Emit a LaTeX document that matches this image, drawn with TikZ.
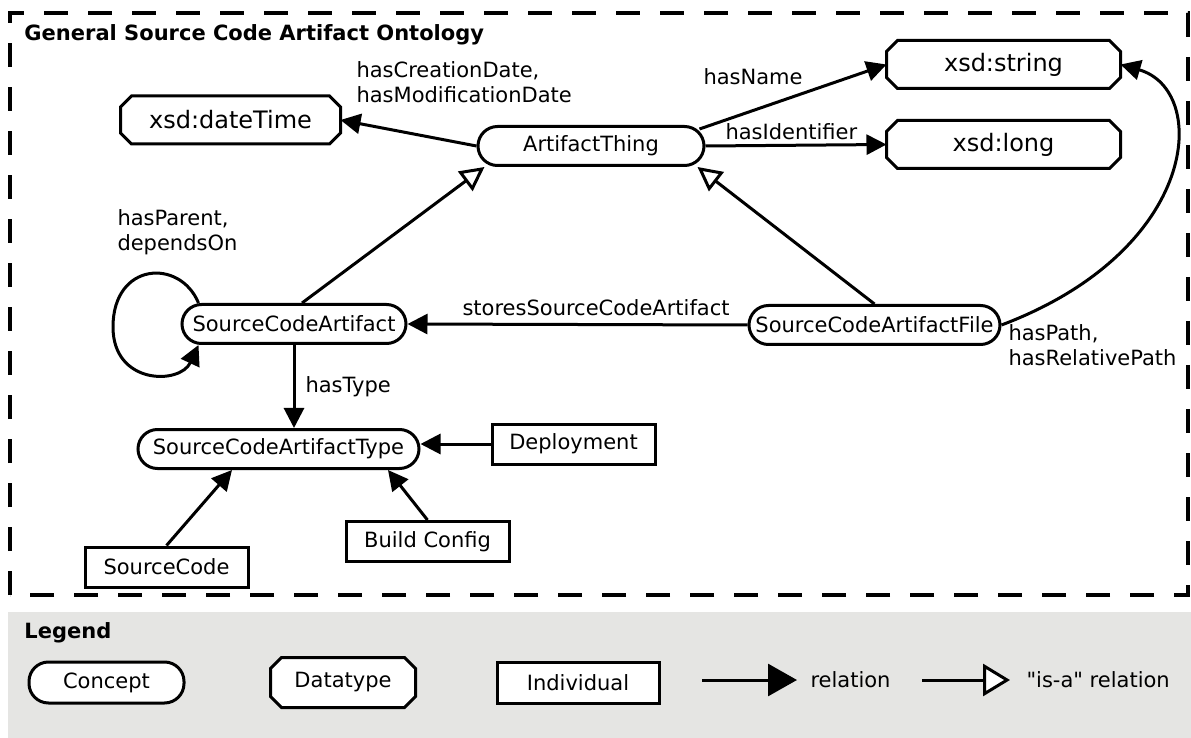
\documentclass[tikz,border=0pt]{standalone}
\usepackage{fontspec}
\setmainfont{DejaVu Sans}[Ligatures=TeXOff]
\usetikzlibrary{arrows.meta}
\definecolor{ink}{HTML}{000000}
\definecolor{legendbg}{HTML}{E5E5E3}
\pgfdeclarelayer{back}
\pgfsetlayers{back,main}

\begin{document}
\begin{tikzpicture}[x=0.5pt,y=-0.5pt,line width=1.5pt,
  every node/.style={font=\fontsize{10.5}{12.5}\selectfont,inner sep=0pt},
  concept/.style={draw=ink,fill=white,rounded corners=9.75pt,minimum height=19.5pt},
  datatype/.style={minimum height=22.5pt,font=\fontsize{12}{14}\selectfont},
  individual/.style={draw=ink,fill=white,minimum width=81.5pt,minimum height=20pt},
  rel/.style={draw=ink,-{Triangle[length=10pt,width=10pt]}},
  isa/.style={draw=ink,-{Triangle[open,length=12pt,width=12pt,fill=white]}},
  lbl/.style={anchor=west,align=left}]
  \useasboundingbox (0,0) rectangle (1191,738);
  \draw[draw=ink,line width=2pt,dash pattern=on 12pt off 10pt] (10,595) rectangle (1188,13);
  \node[anchor=west,font=\fontsize{10.5}{12.5}\selectfont\bfseries] (title) at (23,35) {General Source Code Artifact Ontology};
  \node[datatype,minimum width=108.5pt] (dt) at (230.5,120) {xsd:dateTime};
  \node[concept,minimum width=113pt] (at) at (591,146) {ArtifactThing};
  \node[datatype,minimum width=115.5pt] (str) at (1003.5,64.5) {xsd:string};
  \node[datatype,minimum width=115.5pt] (lng) at (1003.5,144.5) {xsd:long};
  \node[concept,minimum width=112pt] (sca) at (294,324) {SourceCodeArtifact};
  \node[concept,minimum width=125.5pt] (scaf) at (874.5,325) {SourceCodeArtifactFile};
  \node[concept,minimum width=140.5pt] (type) at (278.5,449) {SourceCodeArtifactType};
  \node[individual] (dep) at (573.5,444) {Deployment};
  \node[individual] (bc) at (427.5,541.5) {Build Config};
  \node[individual] (sc) at (166.5,567) {SourceCode};
  \node[lbl] (l1) at (355,82.5) {hasCreationDate,\\hasModificationDate};
  \node[lbl] (l2) at (702,77) {hasName};
  \node[lbl] (l3) at (724,132) {hasIdentifier};
  \node[lbl] (l4) at (461,308) {storesSourceCodeArtifact};
  \node[lbl] (l5) at (116,232.5) {hasParent,\\dependsOn};
  \node[lbl] (l6) at (304,387) {hasType};
  \node[lbl] (l7) at (1007,345.5) {hasPath,\\hasRelativePath};
  \draw[rel] (at.west) -- (dt.east);
  \draw[rel] ([xshift=-3pt,yshift=-2pt]at.north east) -- (str.west);
  \draw[rel] (at.east) -- (lng.west);
  \draw[isa] ([xshift=4pt]sca.north) -- ([xshift=4pt]at.south west);
  \draw[isa] (scaf.north) -- ([xshift=-4pt]at.south east);
  \draw[rel] (scaf.west) -- (sca.east);
  \draw[rel] ([xshift=9pt]sca.north west) .. controls (180,258) and (113,262) .. (113,327) .. controls (113,385) and (180,385) .. ([xshift=9pt]sca.south west);
  \draw[rel] (sca.south) -- (sca.south |- type.north);
  \draw[rel] (dep.west) -- (dep.west -| type.east);
  \draw[rel] (bc.north) -- ([xshift=54.75pt]type.south);
  \draw[rel] (sc.north) -- ([xshift=-23.25pt]type.south);
  \draw[rel] (scaf.east) .. controls (1200,250) and (1210,90) .. (str.east);
  \node[anchor=west,font=\fontsize{10.5}{12.5}\selectfont\bfseries] (leg) at (23,633) {Legend};
  \node[concept,minimum width=77.5pt,minimum height=20.5pt] (kc) at (106.5,682.5) {Concept};
  \node[datatype,minimum width=71pt,minimum height=23.5pt,font=\fontsize{10.5}{12.5}\selectfont] (kd) at (343,682.5) {Datatype};
  \node[individual,minimum width=81pt,minimum height=20.5pt] (ki) at (578,682.5) {Individual};
  \coordinate (r0) at (702,680); \node[anchor=west] (kr) at (809,680) {relation};
  \draw[draw=ink,-{Triangle[length=14.5pt,width=16pt]}] (r0) -- ([xshift=-6pt]kr.west);
  \coordinate (i0) at (922,680); \node[anchor=west] (kia) at (1025,680) {"is-a" relation};
  \draw[draw=ink,-{Triangle[open,length=13.5pt,width=16pt,fill=white]}] (i0) -- ([xshift=-7.5pt]kia.west);
  \begin{pgfonlayer}{back}
    \fill[legendbg] (8,612) rectangle (1191,738);
    \foreach \n in {dt,str,lng,kd}
      \draw[draw=ink,line width=1.5pt,fill=white] ([xshift=5.5pt]\n.north west) -- ([xshift=-5.5pt]\n.north east) -- ([yshift=-5.5pt]\n.north east) -- ([yshift=5.5pt]\n.south east)
        -- ([xshift=-5.5pt]\n.south east) -- ([xshift=5.5pt]\n.south west) -- ([yshift=5.5pt]\n.south west) -- ([yshift=-5.5pt]\n.north west) -- cycle;
  \end{pgfonlayer}
\end{tikzpicture}
\end{document}
